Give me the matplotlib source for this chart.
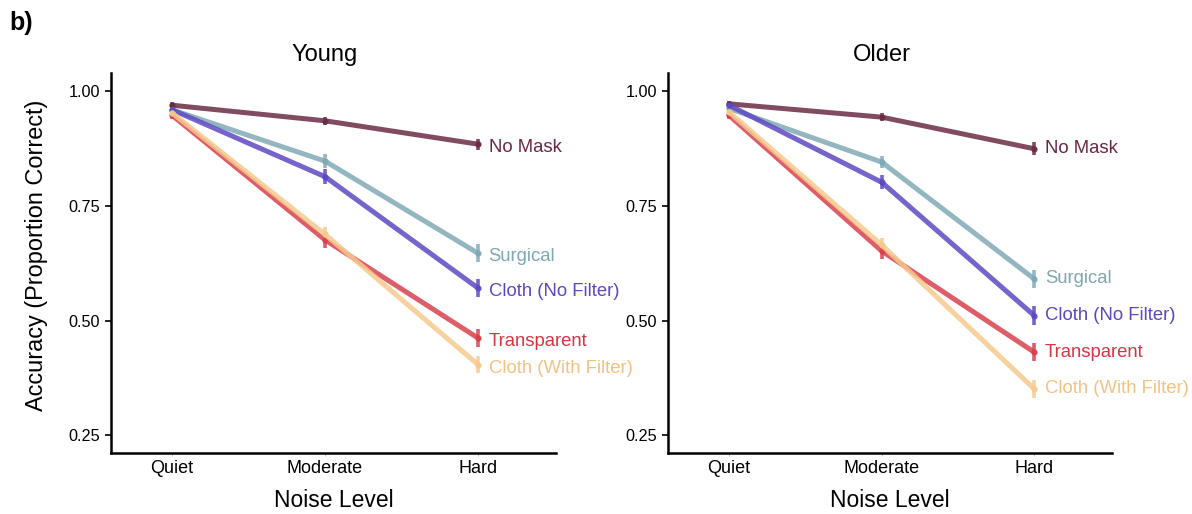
import matplotlib.pyplot as plt
import matplotlib.transforms as mtransforms
import numpy as np

plt.rcParams['font.family'] = ['Liberation Sans', 'DejaVu Sans']

noise_levels = ['Quiet', 'Moderate', 'Hard']
masks = ['No Mask', 'Surgical', 'Cloth (No Filter)', 'Transparent', 'Cloth (With Filter)']
line_colors = ['#6b2c47', '#80a9b6', '#5e49c3', '#d8404d', '#f6c98d']
text_colors = ['#6a2745', '#7ea6b3', '#5b47c0', '#d93443', '#f4c181']

young_acc = {
    'No Mask': [0.970, 0.936, 0.885],
    'Surgical': [0.960, 0.848, 0.647],
    'Cloth (No Filter)': [0.960, 0.814, 0.571],
    'Transparent': [0.948, 0.676, 0.462],
    'Cloth (With Filter)': [0.953, 0.688, 0.404],
}
young_se = {
    'No Mask': [0.006, 0.009, 0.012],
    'Surgical': [0.007, 0.016, 0.020],
    'Cloth (No Filter)': [0.007, 0.016, 0.019],
    'Transparent': [0.007, 0.018, 0.020],
    'Cloth (With Filter)': [0.007, 0.016, 0.018],
}
older_acc = {
    'No Mask': [0.973, 0.944, 0.875],
    'Surgical': [0.963, 0.846, 0.591],
    'Cloth (No Filter)': [0.970, 0.802, 0.511],
    'Transparent': [0.948, 0.652, 0.431],
    'Cloth (With Filter)': [0.955, 0.665, 0.351],
}
older_se = {
    'No Mask': [0.006, 0.009, 0.014],
    'Surgical': [0.007, 0.013, 0.019],
    'Cloth (No Filter)': [0.007, 0.015, 0.020],
    'Transparent': [0.007, 0.017, 0.020],
    'Cloth (With Filter)': [0.007, 0.016, 0.020],
}
panels = [('Young', young_acc, young_se, -0.008), ('Older', older_acc, older_se, 0.0)]


def draw_panel(ax, title, acc, se, nudge):
    x = np.arange(len(noise_levels))
    for mask, lc, tc in zip(masks, line_colors, text_colors):
        ax.errorbar(x, acc[mask], yerr=se[mask], color=lc, lw=3.6, alpha=0.85,
                    elinewidth=2.6, capsize=0, marker='o', ms=3.5,
                    solid_capstyle='round')
        ax.text(x[-1] + 0.07, acc[mask][-1] + nudge, mask, color=tc,
                fontsize=13.3, va='center', ha='left')
    ax.set_xlim(-0.4, 2.51)
    ax.set_ylim(0.211, 1.040)
    ax.set_xticks(x)
    ax.set_xticklabels(noise_levels, fontsize=13)
    ax.set_yticks([0.25, 0.50, 0.75, 1.00])
    ax.set_yticklabels(['0.25', '0.50', '0.75', '1.00'], fontsize=11.7)
    ax.tick_params(axis='y', length=4, width=1.2, pad=4)
    ax.tick_params(axis='x', length=2, width=0.6, color='#bbbbbb', pad=3)
    for s in ['top', 'right']:
        ax.spines[s].set_visible(False)
    for s in ['left', 'bottom']:
        ax.spines[s].set_linewidth(1.8)
    trans = mtransforms.blended_transform_factory(ax.transData, ax.transAxes)
    ax.text(1, 1.047, title, transform=trans, fontsize=17, ha='center', va='center')
    ax.set_xlabel('Noise Level', fontsize=16.5, labelpad=9)


fig = plt.figure(figsize=(11.92, 5.14), dpi=100)
ax1 = fig.add_axes([0.0931, 0.1187, 0.3733, 0.739])
ax2 = fig.add_axes([0.5604, 0.1187, 0.3725, 0.739])
for ax, (title, acc, se, nudge) in zip([ax1, ax2], panels):
    draw_panel(ax, title, acc, se, nudge)

fig.text(0.031, 0.504, 'Accuracy (Proportion Correct)', rotation=90, fontsize=16.9,
         va='center', ha='center')
fig.text(0.008, 0.955, 'b)', fontsize=18, fontweight='bold', va='center')

fig.savefig('out.png', dpi=100)
